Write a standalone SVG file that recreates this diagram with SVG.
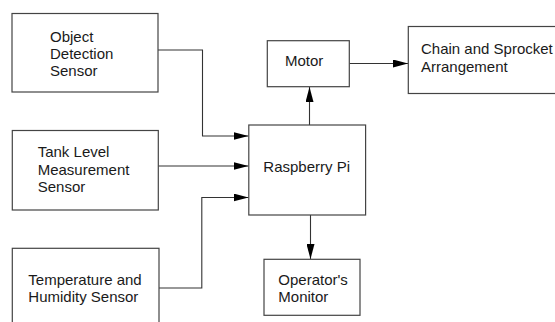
<svg xmlns="http://www.w3.org/2000/svg" width="555" height="322" viewBox="0 0 555 322">
<style>
.box{fill:#fff;stroke:#444;stroke-width:1.2}
.lbl{font-family:"Liberation Sans",Arial,sans-serif;font-size:15px;fill:#1a1a1a}
.conn{fill:none;stroke:#333;stroke-width:1.1}
</style>
<defs>
<marker id="ah" markerWidth="15" markerHeight="8" refX="15" refY="4" orient="auto" markerUnits="userSpaceOnUse">
<path d="M0,0 L15,4 L0,8 Z" fill="#000"/>
</marker>
</defs>
<rect width="555" height="322" fill="#fff"/>
<g id="connectors">
<path class="conn" d="M158,50 H202.5 V136 H248.5" marker-end="url(#ah)"/>
<path class="conn" d="M158,166 H248.5" marker-end="url(#ah)"/>
<path class="conn" d="M159,288 H201.8 V197.5 H248.5" marker-end="url(#ah)"/>
<path class="conn" d="M309.5,125 V87" marker-end="url(#ah)"/>
<path class="conn" d="M349.5,63.5 H408" marker-end="url(#ah)"/>
<path class="conn" d="M310.5,215 V259" marker-end="url(#ah)"/>
</g>
<g id="object-detection">
<rect class="box" x="12" y="13.5" width="146" height="78.5"/>
<text class="lbl" x="50" y="42">Object</text>
<text class="lbl" x="50" y="59">Detection</text>
<text class="lbl" x="50" y="76">Sensor</text>
</g>
<g id="tank-level">
<rect class="box" x="12.3" y="130.5" width="146" height="79.5"/>
<text class="lbl" x="37.7" y="157">Tank Level</text>
<text class="lbl" x="37.7" y="174.5">Measurement</text>
<text class="lbl" x="37.7" y="192">Sensor</text>
</g>
<g id="temperature">
<rect class="box" x="12.3" y="248.3" width="146.7" height="85"/>
<text class="lbl" x="28.3" y="285">Temperature and</text>
<text class="lbl" x="28.3" y="301.7">Humidity Sensor</text>
</g>
<g id="raspberry-pi">
<rect class="box" x="248.8" y="125" width="116.8" height="90"/>
<text class="lbl" x="263.3" y="172.3">Raspberry Pi</text>
</g>
<g id="motor">
<rect class="box" x="267.3" y="40.7" width="82" height="46"/>
<text class="lbl" x="285" y="66">Motor</text>
</g>
<g id="chain-sprocket">
<rect class="box" x="408.3" y="26.5" width="160" height="67"/>
<text class="lbl" x="421" y="54.3">Chain and Sprocket</text>
<text class="lbl" x="421" y="71.7">Arrangement</text>
</g>
<g id="operators-monitor">
<rect class="box" x="264" y="259.3" width="96" height="56"/>
<text class="lbl" x="278.3" y="285">Operator's</text>
<text class="lbl" x="278.3" y="301.7">Monitor</text>
</g>
</svg>
